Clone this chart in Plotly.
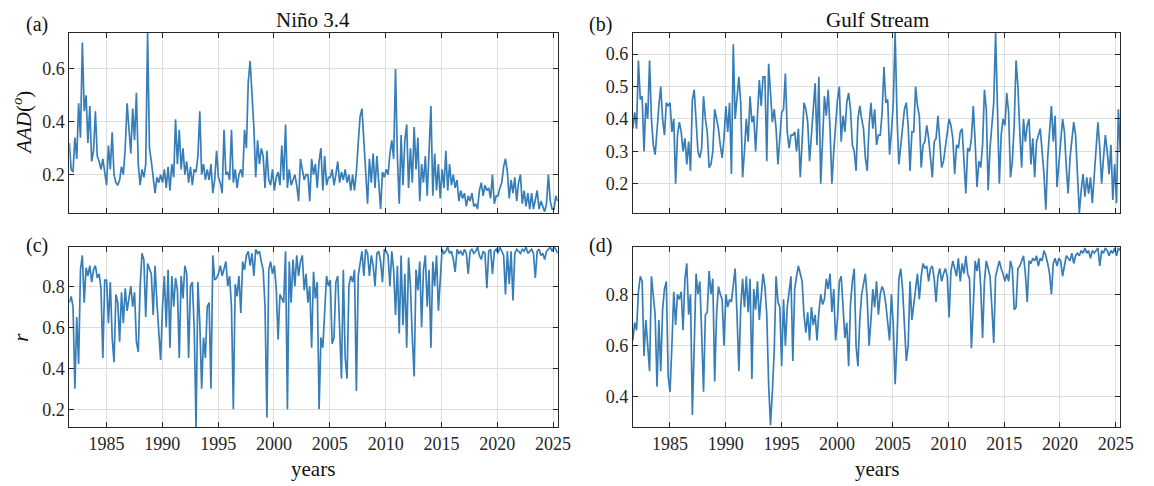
import numpy as np
import plotly.graph_objects as go

# ---------------- data (bimonthly samples) ----------------
T_START = 1981.667
T_END = 2025.41

years_ticks = [1985, 1990, 1995, 2000, 2005, 2010, 2015, 2020, 2025]

nino_aad = [
    0.32, 0.22,
    0.21, 0.34, 0.26, 0.47, 0.34, 0.70,
    0.44, 0.50, 0.32, 0.46, 0.25, 0.29,
    0.44, 0.27, 0.25, 0.22, 0.26, 0.20,
    0.16, 0.31, 0.22, 0.36, 0.20, 0.17,
    0.16, 0.18, 0.23, 0.20, 0.30, 0.47,
    0.38, 0.28, 0.45, 0.33, 0.51, 0.24,
    0.16, 0.22, 0.19, 0.24, 0.736, 0.30,
    0.25, 0.20, 0.13, 0.19, 0.17, 0.20,
    0.17, 0.22, 0.15, 0.23, 0.14, 0.24,
    0.19, 0.41, 0.24, 0.37, 0.22, 0.30,
    0.20, 0.25, 0.17, 0.23, 0.16, 0.22,
    0.21, 0.27, 0.44, 0.20, 0.24, 0.18,
    0.22, 0.18, 0.24, 0.13, 0.18, 0.29,
    0.19, 0.17, 0.13, 0.37, 0.20, 0.21,
    0.18, 0.37, 0.17, 0.22, 0.15, 0.20,
    0.22, 0.19, 0.37, 0.30, 0.55, 0.63,
    0.52, 0.38, 0.19, 0.33, 0.24, 0.30,
    0.27, 0.15, 0.29, 0.18, 0.16, 0.22,
    0.14, 0.19, 0.21, 0.16, 0.31, 0.18,
    0.39, 0.15, 0.22, 0.16, 0.18, 0.20,
    0.16, 0.10, 0.26, 0.22, 0.18, 0.20,
    0.20, 0.10, 0.26, 0.20, 0.24, 0.15,
    0.25, 0.30, 0.14, 0.27, 0.16, 0.19,
    0.19, 0.22, 0.16, 0.20, 0.25, 0.17,
    0.21, 0.18, 0.22, 0.17, 0.20, 0.14,
    0.20, 0.14, 0.21, 0.32, 0.42, 0.45,
    0.33, 0.22, 0.09, 0.26, 0.17, 0.28,
    0.15, 0.27, 0.18, 0.07, 0.21, 0.19,
    0.22, 0.20, 0.28, 0.33, 0.26, 0.60,
    0.27, 0.09, 0.35, 0.16, 0.33, 0.39,
    0.15, 0.30, 0.17, 0.38, 0.22, 0.34,
    0.10, 0.24, 0.17, 0.27, 0.12, 0.29,
    0.46, 0.12, 0.28, 0.14, 0.24, 0.11,
    0.22, 0.15, 0.29, 0.14, 0.24, 0.16,
    0.20, 0.15, 0.18, 0.10, 0.14, 0.11,
    0.13, 0.08, 0.12, 0.10, 0.13, 0.08,
    0.09, 0.07, 0.14, 0.17, 0.12, 0.16,
    0.14, 0.15, 0.11, 0.20, 0.09, 0.12,
    0.12, 0.15, 0.17, 0.23, 0.26, 0.21,
    0.11, 0.18, 0.13, 0.19, 0.10, 0.17,
    0.20, 0.09, 0.14, 0.08, 0.13, 0.07,
    0.13, 0.07, 0.11, 0.14, 0.07, 0.10,
    0.08, 0.06, 0.09, 0.20, 0.10, 0.07,
    0.07, 0.12, 0.10,
]

nino_r = [
    0.72, 0.75,
    0.70, 0.30, 0.65, 0.42, 0.88, 0.95,
    0.72, 0.89, 0.85, 0.90, 0.82, 0.88,
    0.90, 0.84, 0.86, 0.79, 0.45, 0.83,
    0.83, 0.62, 0.82, 0.55, 0.43, 0.76,
    0.72, 0.53, 0.77, 0.62, 0.79, 0.68,
    0.74, 0.80, 0.70, 0.77, 0.53, 0.48,
    0.80, 0.96, 0.93, 0.65, 0.91, 0.88,
    0.86, 0.66, 0.90, 0.72, 0.55, 0.44,
    0.70, 0.85, 0.60, 0.88, 0.50, 0.85,
    0.70, 0.84, 0.78, 0.45, 0.85, 0.74,
    0.90, 0.86, 0.45, 0.80, 0.82, 0.60,
    0.11, 0.82, 0.62, 0.30, 0.55, 0.45,
    0.70, 0.72, 0.30, 0.95, 0.83, 0.84,
    0.86, 0.90, 0.85, 0.88, 0.92, 0.80,
    0.85, 0.70, 0.20, 0.81, 0.75, 0.85,
    0.67, 0.92, 0.88, 0.95, 0.97, 0.90,
    0.96, 0.85, 0.98, 0.96, 0.97, 0.92,
    0.88, 0.70, 0.16, 0.88, 0.92, 0.86,
    0.90, 0.79, 0.54, 0.76, 0.74, 0.72,
    0.97, 0.20, 0.92, 0.72, 0.93, 0.80,
    0.95, 0.85, 0.92, 0.95, 0.78, 0.86,
    0.72, 0.80, 0.50, 0.87, 0.74, 0.82,
    0.20, 0.55, 0.50, 0.70, 0.85, 0.80,
    0.83, 0.52, 0.55, 0.82, 0.85, 0.60,
    0.35, 0.88, 0.45, 0.35, 0.80, 0.85,
    0.82, 0.88, 0.29, 0.85, 0.90, 0.97,
    0.85, 0.98, 0.96, 0.85, 0.95, 0.90,
    0.80, 0.96, 0.97, 0.92, 0.82, 0.98,
    0.97, 0.95, 0.80, 0.97, 0.88, 0.66,
    0.90, 0.57, 0.95, 0.61, 0.86, 0.50,
    0.94, 0.80, 0.55, 0.36, 0.88, 0.78,
    0.92, 0.60, 0.88, 0.95, 0.70, 0.88,
    0.50, 0.92, 0.80, 0.95, 0.68, 0.85,
    0.98, 0.96, 0.97, 0.99, 0.96, 0.97,
    0.93, 0.87, 0.98, 0.96, 0.97, 0.95,
    0.98, 0.96, 0.86, 0.97, 0.98, 0.96,
    0.97, 0.99, 0.95, 0.93, 0.97, 0.96,
    0.79, 0.97, 0.98, 0.86, 0.97, 0.98,
    0.96, 0.99, 0.97, 0.95, 0.76, 0.97,
    0.81, 0.97, 0.73, 0.96, 0.98, 0.97,
    0.96, 0.98, 0.97, 0.99, 0.96, 0.97,
    0.98, 0.96, 0.84, 0.97, 0.98, 0.95,
    0.96, 0.93, 0.97, 0.98, 0.99, 0.97,
    0.99, 0.98, 0.96,
]

gulf_aad = [
    0.37, 0.42, 0.37, 0.58, 0.46, 0.47, 0.30, 0.45, 0.40, 0.58,
    0.40, 0.32, 0.29, 0.38, 0.44, 0.50, 0.40, 0.35, 0.45, 0.44,
    0.45, 0.36, 0.40, 0.20, 0.35, 0.39, 0.36, 0.30, 0.34, 0.26,
    0.33, 0.24, 0.46, 0.49, 0.38, 0.30, 0.28, 0.31, 0.47, 0.40,
    0.36, 0.25, 0.26, 0.30, 0.43, 0.40, 0.37, 0.32, 0.28, 0.34,
    0.44, 0.36, 0.45, 0.23, 0.63, 0.40, 0.48, 0.53, 0.45, 0.22,
    0.30, 0.40, 0.33, 0.47, 0.39, 0.41, 0.30, 0.42, 0.52, 0.44,
    0.53, 0.53, 0.27, 0.57, 0.48, 0.39, 0.43, 0.37, 0.26, 0.35,
    0.42, 0.43, 0.54, 0.36, 0.31, 0.35, 0.35, 0.36, 0.30, 0.37,
    0.22, 0.33, 0.45, 0.43, 0.39, 0.27, 0.35, 0.44, 0.51, 0.32,
    0.53, 0.20, 0.35, 0.47, 0.41, 0.49, 0.37, 0.20, 0.30, 0.38,
    0.46, 0.50, 0.33, 0.41, 0.36, 0.45, 0.48, 0.43, 0.32, 0.30,
    0.24, 0.40, 0.44, 0.40, 0.37, 0.28, 0.24, 0.38, 0.45, 0.37,
    0.43, 0.32,
    0.35, 0.35, 0.42, 0.56, 0.45, 0.46, 0.29, 0.36, 0.45, 0.665,
    0.41, 0.26, 0.32, 0.36, 0.43, 0.45, 0.38, 0.24, 0.36, 0.36,
    0.50, 0.44, 0.41, 0.25, 0.32, 0.33, 0.38, 0.34, 0.28, 0.22,
    0.33, 0.34, 0.41, 0.31, 0.25, 0.27, 0.31, 0.35, 0.40, 0.38,
    0.34, 0.23, 0.32, 0.31, 0.36, 0.37, 0.27, 0.17, 0.31, 0.30,
    0.34, 0.44, 0.33, 0.19, 0.27, 0.25, 0.32, 0.49, 0.43, 0.18,
    0.31, 0.38, 0.45, 0.665, 0.40, 0.20, 0.35, 0.40, 0.38, 0.48,
    0.42, 0.22, 0.27, 0.38, 0.58, 0.50, 0.36, 0.25, 0.40, 0.33,
    0.38, 0.40, 0.26, 0.34, 0.22, 0.33, 0.35, 0.37, 0.30, 0.23,
    0.12, 0.28, 0.36, 0.44, 0.33, 0.41, 0.19, 0.25, 0.33, 0.40,
    0.36, 0.25, 0.17, 0.28, 0.34, 0.39, 0.35, 0.24, 0.11, 0.18,
    0.23, 0.16, 0.22, 0.17, 0.22, 0.14, 0.23, 0.30, 0.39, 0.31,
    0.20, 0.28, 0.35, 0.30, 0.23, 0.32, 0.15, 0.26, 0.14, 0.43,
    0.30,
]

gulf_r = [
    0.62, 0.69, 0.66, 0.81, 0.87, 0.85, 0.56, 0.70, 0.60, 0.50,
    0.87, 0.80, 0.72, 0.44, 0.70, 0.50, 0.74, 0.82, 0.85, 0.48,
    0.42, 0.60, 0.81, 0.68, 0.80, 0.78, 0.81, 0.66, 0.86, 0.92,
    0.72, 0.80, 0.33, 0.60, 0.88, 0.80, 0.85, 0.65, 0.42, 0.72,
    0.73, 0.89, 0.80, 0.86, 0.46, 0.72, 0.83, 0.80, 0.78, 0.60,
    0.80, 0.75, 0.78, 0.77, 0.84, 0.90, 0.72, 0.50, 0.75, 0.86,
    0.75, 0.87, 0.73, 0.86, 0.47, 0.82, 0.74, 0.85, 0.70, 0.80,
    0.88, 0.83, 0.72, 0.45, 0.29, 0.42, 0.58, 0.87, 0.77, 0.75,
    0.52, 0.78, 0.60, 0.75, 0.80, 0.87, 0.54, 0.82, 0.87, 0.91,
    0.88, 0.85, 0.72, 0.65, 0.73, 0.62, 0.75, 0.68, 0.72, 0.62,
    0.73, 0.80, 0.76, 0.78, 0.86, 0.82, 0.88, 0.73, 0.82, 0.62,
    0.70, 0.85, 0.87, 0.74, 0.63, 0.69, 0.52, 0.76, 0.85, 0.90,
    0.60, 0.52, 0.70, 0.80, 0.85, 0.88, 0.78, 0.60, 0.70, 0.82,
    0.75, 0.85,
    0.72, 0.80, 0.83, 0.81, 0.76, 0.70, 0.62, 0.80, 0.68, 0.45,
    0.62, 0.86, 0.90, 0.82, 0.68, 0.54, 0.60, 0.85, 0.70, 0.77,
    0.82, 0.88, 0.78, 0.87, 0.92, 0.90, 0.91, 0.85, 0.90, 0.91,
    0.86, 0.77, 0.87, 0.90, 0.85, 0.88, 0.90, 0.87, 0.71, 0.89,
    0.93, 0.90, 0.87, 0.94, 0.85, 0.92, 0.88, 0.95, 0.88, 0.86,
    0.59, 0.75, 0.93, 0.89, 0.94, 0.83, 0.63, 0.85, 0.93, 0.90,
    0.87, 0.75, 0.61, 0.87, 0.90, 0.93, 0.90, 0.88, 0.85, 0.88,
    0.85, 0.93, 0.90, 0.74, 0.75, 0.90, 0.91, 0.93, 0.95, 0.88,
    0.77, 0.93, 0.92, 0.94, 0.93, 0.95, 0.91, 0.94, 0.93, 0.97,
    0.95, 0.92, 0.88, 0.80, 0.92, 0.94, 0.91, 0.94, 0.93, 0.87,
    0.92, 0.95, 0.94, 0.93, 0.96, 0.92, 0.95, 0.96, 0.95, 0.97,
    0.96, 0.98, 0.96, 0.97, 0.94, 0.97, 0.96, 0.97, 0.98, 0.91,
    0.97, 0.96, 0.98, 0.97, 0.95, 0.97, 0.96, 0.98, 0.95, 0.98,
    0.97,
]

titles = ["Niño 3.4", "Gulf Stream"]
panel_labels = ["(a)", "(b)", "(c)", "(d)"]

# ---------------- styling ----------------
OFF = 8                      # default page margin of the html body
W, H = 1154 - OFF, 486 - OFF  # figure size
LINE = "#377eb8"
AX = "#262626"
GRID = "#dedede"
FONT = "Liberation Serif"


def px(xp):
    return (xp - OFF) / W


def py(yp):
    return 1 - (yp - OFF) / H


t = np.linspace(T_START, T_END, len(nino_aad))

fig = go.Figure()
series = [nino_aad, gulf_aad, nino_r, gulf_r]
for k, s in enumerate(series):
    suf = "" if k == 0 else str(k + 1)
    fig.add_trace(go.Scatter(x=t, y=s, mode="lines",
                             line=dict(color=LINE, width=1.7),
                             xaxis="x" + suf, yaxis="y" + suf,
                             showlegend=False, hoverinfo="skip"))

common = dict(showline=True, linecolor=AX, linewidth=1, mirror="ticks",
              ticks="inside", ticklen=5, tickcolor=AX, tickwidth=1,
              showgrid=True, gridcolor=GRID, gridwidth=1, zeroline=False,
              tickfont=dict(family=FONT, size=18, color=AX))

xdom = [[px(70), px(564)], [px(640), px(1133)]]
ydom_top = [py(213), py(33)]
ydom_bot = [py(427), py(247)]

yranges = [[0.055, 0.736], [0.11, 0.665], [0.114, 0.991], [0.283, 0.984]]
yticks = [[0.2, 0.4, 0.6], [0.2, 0.3, 0.4, 0.5, 0.6],
          [0.2, 0.4, 0.6, 0.8], [0.4, 0.6, 0.8]]

layout = dict(width=W, height=H, margin=dict(l=0, r=0, t=0, b=0),
              paper_bgcolor="white", plot_bgcolor="white")

for k in range(4):
    suf = "" if k == 0 else str(k + 1)
    col = k % 2
    bottom = k >= 2
    layout["xaxis" + suf] = dict(common, domain=xdom[col], anchor="y" + suf,
                                 range=[T_START, T_END],
                                 tickvals=years_ticks,
                                 ticktext=[str(v) for v in years_ticks],
                                 showticklabels=bottom)
    layout["yaxis" + suf] = dict(common, domain=ydom_bot if bottom else ydom_top,
                                 anchor="x" + suf, range=yranges[k],
                                 tickvals=yticks[k],
                                 ticktext=["%.1f" % v for v in yticks[k]])

fig.update_layout(**layout)

ann = []


def note(x, y, text, size, angle=0):
    ann.append(dict(x=px(x), y=py(y), xref="paper", yref="paper", text=text,
                    showarrow=False, textangle=angle,
                    xanchor="center", yanchor="middle",
                    font=dict(family=FONT, size=size, color="#111111")))


for cx, title in zip([317, 887], titles):
    note(cx, 20, title, 21)
    note(cx, 469, "years", 21)
for lab, (cx, cy) in zip(panel_labels, [(37, 25), (607, 25), (37, 245), (607, 245)]):
    note(cx, cy, lab, 20)
note(22, 123, "<i>AAD</i>(<sup><i>o</i></sup>)", 21, -90)
note(21, 337, "<i>r</i>", 21, -90)
fig.update_layout(annotations=ann)

fig.write_html("out.html")
